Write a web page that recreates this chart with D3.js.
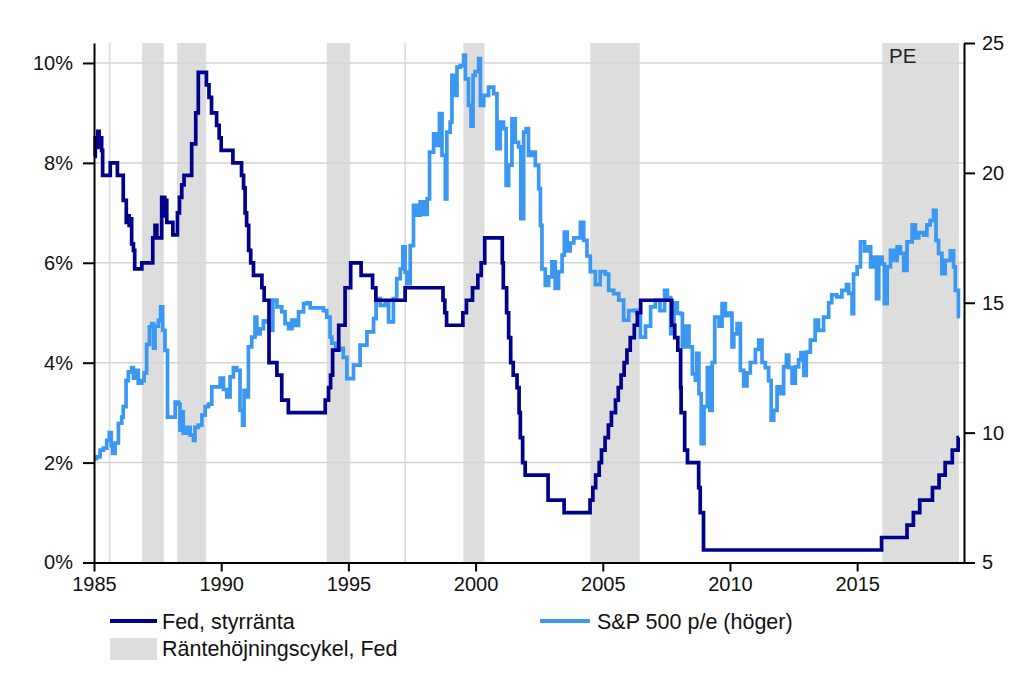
<!DOCTYPE html>
<html><head><meta charset="utf-8">
<script src="https://cdn.jsdelivr.net/npm/d3@7"></script>
<style>body{margin:0;background:#fff;} svg{display:block;}</style>
</head><body><svg id="c" width="1024" height="683"></svg>
<script>
// ---- data ----
const xTicks = [1985, 1990, 1995, 2000, 2005, 2010, 2015];
const leftTicks = [0, 2, 4, 6, 8, 10];
const rightTicks = [5, 10, 15, 20, 25];
// Fed rate hike cycles [start, end] (decimal years)
const hikeCycles = [[1985.58,1985.65],[1986.89,1987.74],[1988.27,1989.41],[1994.15,1995.07],[1997.2,1997.27],[1999.52,2000.35],[2004.51,2006.45],[2015.99,2019.0]];
// Fed policy rate, step-after [year, %]
const fedRate = [
[1985.00,8.13],[1985.05,8.5],[1985.10,8.31],[1985.15,8.63],[1985.20,8.38],[1985.25,8.5],[1985.30,8.25],[1985.34,7.75],[1985.64,8.0],[1985.92,7.75],
[1986.15,7.25],[1986.27,6.81],[1986.33,6.94],[1986.38,6.75],[1986.43,6.88],[1986.48,6.38],[1986.55,6.25],[1986.60,5.88],[1986.88,6.0],
[1987.31,6.5],[1987.40,6.75],[1987.47,6.5],[1987.66,7.31],[1987.70,6.94],[1987.74,7.31],[1987.78,6.94],[1987.82,7.25],[1987.86,6.81],
[1988.10,6.56],[1988.28,7.0],[1988.36,7.31],[1988.45,7.56],[1988.54,7.75],[1988.84,8.38],[1989.00,9.0],[1989.10,9.81],
[1989.42,9.56],[1989.52,9.31],[1989.62,9.0],[1989.82,8.75],[1989.92,8.5],[1990.00,8.25],[1990.46,8.0],[1990.80,7.75],[1990.88,7.5],
[1990.94,7.0],[1991.00,6.75],[1991.08,6.25],[1991.16,6.0],[1991.27,5.75],[1991.60,5.5],[1991.69,5.25],[1991.88,4.0],[1992.19,3.75],
[1992.38,3.25],[1992.64,3.0],[1994.09,3.25],[1994.22,3.5],[1994.30,3.75],[1994.38,4.25],[1994.62,4.75],[1994.87,5.5],[1995.09,6.0],
[1995.50,5.75],[1995.95,5.5],[1996.08,5.25],[1997.23,5.5],[1998.72,5.25],[1998.79,5.0],[1998.86,4.75],[1999.50,5.0],[1999.64,5.25],
[1999.88,5.5],[2000.09,5.75],[2000.22,6.0],[2000.36,6.5],[2001.05,6.0],[2001.09,5.5],[2001.22,5.0],[2001.30,4.5],[2001.38,4.0],
[2001.48,3.75],[2001.63,3.5],[2001.71,3.0],[2001.76,2.5],[2001.85,2.0],[2001.95,1.75],[2002.85,1.25],[2003.48,1.0],[2004.50,1.25],
[2004.61,1.5],[2004.72,1.75],[2004.86,2.0],[2004.95,2.25],[2005.09,2.5],[2005.22,2.75],[2005.34,3.0],[2005.50,3.25],[2005.61,3.5],
[2005.72,3.75],[2005.84,4.0],[2005.95,4.25],[2006.08,4.5],[2006.24,4.75],[2006.36,5.0],[2006.49,5.25],[2007.71,4.75],[2007.83,4.5],
[2007.95,4.25],[2008.06,3.5],[2008.08,3.0],[2008.22,2.25],[2008.33,2.0],[2008.77,1.5],[2008.83,1.0],[2008.96,0.25],[2015.96,0.5],
[2016.96,0.75],[2017.21,1.0],[2017.46,1.25],[2017.96,1.5],[2018.22,1.75],[2018.46,2.0],[2018.74,2.25],[2018.97,2.5],[2019.0,2.5]];
// S&P 500 p/e, right axis [year, p/e]
const spPE = [
[1985.00,9.0],[1985.10,9.07],[1985.24,9.33],[1985.37,9.4],[1985.50,9.7],[1985.60,10.0],[1985.68,9.5],[1985.73,9.2],[1985.83,9.6],[1985.96,10.36],
[1986.09,10.6],[1986.15,11.0],[1986.26,12.0],[1986.35,12.34],[1986.48,12.5],[1986.55,12.1],[1986.61,12.4],[1986.74,11.9],[1986.88,12.0],[1986.97,12.3],
[1987.07,13.4],[1987.18,14.07],[1987.27,14.2],[1987.34,13.25],[1987.40,14.1],[1987.53,14.33],[1987.62,14.84],[1987.70,13.94],[1987.79,13.17],[1987.89,10.6],
[1988.12,10.6],[1988.19,11.18],[1988.32,11.1],[1988.38,10.1],[1988.45,10.8],[1988.51,9.98],[1988.65,10.2],[1988.78,9.9],[1988.91,9.7],[1988.97,10.2],
[1989.10,10.29],[1989.24,10.67],[1989.37,11.0],[1989.50,11.1],[1989.63,11.76],[1989.83,11.76],[1989.96,12.1],[1990.09,11.66],[1990.22,11.38],[1990.35,12.15],
[1990.48,12.5],[1990.61,12.4],[1990.74,10.86],[1990.84,10.29],[1990.90,11.63],[1991.00,11.38],[1991.07,13.3],[1991.20,13.68],[1991.33,14.45],[1991.40,13.8],
[1991.53,14.0],[1991.66,14.3],[1991.79,14.26],[1991.92,13.94],[1992.03,15.1],[1992.19,14.84],[1992.38,14.65],[1992.51,14.2],[1992.65,14.0],[1992.78,14.33],
[1992.90,14.13],[1993.04,14.65],[1993.24,14.97],[1993.37,15.0],[1993.50,14.8],[1993.76,14.8],[1994.02,14.7],[1994.15,14.45],[1994.28,13.68],[1994.35,13.44],
[1994.50,13.2],[1994.68,13.24],[1994.80,12.9],[1994.94,12.08],[1995.20,12.6],[1995.46,13.37],[1995.73,13.88],[1995.99,14.39],[1996.09,15.16],[1996.25,14.9],
[1996.45,15.0],[1996.58,14.26],[1996.77,15.16],[1996.90,15.93],[1997.04,16.3],[1997.14,17.15],[1997.23,16.18],[1997.30,15.74],[1997.43,17.2],[1997.56,18.75],
[1997.70,18.37],[1997.82,18.88],[1997.96,18.4],[1998.10,19.0],[1998.19,20.8],[1998.35,21.5],[1998.48,21.06],[1998.58,22.28],[1998.68,20.67],[1998.81,19.0],
[1998.87,21.57],[1999.00,21.95],[1999.07,23.75],[1999.20,22.98],[1999.27,24.07],[1999.40,24.13],[1999.53,24.52],[1999.60,23.62],[1999.72,22.6],[1999.82,21.8],
[1999.90,23.75],[1999.98,23.9],[2000.12,24.4],[2000.19,22.6],[2000.32,22.98],[2000.51,23.3],[2000.71,23.05],[2000.84,20.93],[2000.97,21.95],[2001.10,21.7],
[2001.20,19.52],[2001.30,20.3],[2001.43,22.08],[2001.56,21.18],[2001.69,21.0],[2001.78,18.24],[2001.89,21.57],[2001.99,21.7],[2002.08,20.67],[2002.21,20.8],
[2002.35,20.29],[2002.48,19.39],[2002.55,17.98],[2002.61,16.3],[2002.74,15.67],[2002.87,16.0],[2003.00,16.57],[2003.13,15.55],[2003.26,16.2],[2003.40,16.83],
[2003.49,17.72],[2003.60,17.0],[2003.72,17.3],[2003.86,17.5],[2004.12,18.1],[2004.25,17.4],[2004.38,16.8],[2004.51,16.2],[2004.71,15.7],[2004.90,16.2],
[2005.10,16.1],[2005.23,15.48],[2005.43,15.35],[2005.63,15.1],[2005.82,14.33],[2006.02,14.7],[2006.22,14.71],[2006.35,14.6],[2006.48,13.68],[2006.68,14.1],
[2006.88,14.84],[2007.07,15.1],[2007.25,14.7],[2007.43,15.48],[2007.54,15.2],[2007.67,13.81],[2007.80,15.0],[2007.93,14.6],[2008.05,14.58],[2008.13,13.3],
[2008.26,14.1],[2008.39,13.3],[2008.52,12.26],[2008.64,12.02],[2008.69,13.05],[2008.78,11.5],[2008.87,9.58],[2008.98,11.0],[2009.11,12.5],[2009.21,10.86],
[2009.30,12.7],[2009.40,14.45],[2009.57,14.1],[2009.69,14.97],[2009.82,14.5],[2009.95,14.6],[2010.08,13.3],[2010.15,13.8],[2010.28,14.2],[2010.41,12.4],
[2010.54,11.8],[2010.67,12.3],[2010.80,12.7],[2011.00,13.2],[2011.13,13.56],[2011.26,12.7],[2011.39,12.5],[2011.52,12.0],[2011.62,10.48],[2011.72,10.86],
[2011.85,11.76],[2011.98,11.5],[2012.11,12.53],[2012.22,12.98],[2012.31,12.5],[2012.44,11.9],[2012.57,12.53],[2012.70,12.8],[2012.79,13.08],[2012.90,12.2],
[2013.00,13.1],[2013.16,13.56],[2013.35,14.33],[2013.48,13.94],[2013.68,14.45],[2013.88,15.0],[2014.00,15.3],[2014.20,15.23],[2014.40,15.48],[2014.58,15.7],
[2014.67,15.36],[2014.80,14.58],[2014.86,16.1],[2015.00,16.38],[2015.13,17.34],[2015.29,17.0],[2015.40,17.15],[2015.53,16.38],[2015.66,16.76],[2015.76,15.16],
[2015.85,16.76],[2015.98,16.5],[2016.07,14.97],[2016.18,16.38],[2016.31,17.02],[2016.44,16.63],[2016.57,17.15],[2016.70,16.9],[2016.83,16.25],[2016.96,17.34],
[2017.16,18.0],[2017.29,17.5],[2017.42,17.7],[2017.61,17.6],[2017.74,18.0],[2017.87,18.17],[2018.00,18.56],[2018.10,17.4],[2018.20,16.9],[2018.33,16.12],
[2018.46,16.63],[2018.66,17.0],[2018.79,16.38],[2018.86,15.48],[2018.98,14.4]];
const seriesNames = ["Fed, styrränta", "S&P 500 p/e (höger)", "Räntehöjningscykel, Fed"];
const panelLabel = "PE";

// ---- drawing ----
const FONT = '"Liberation Sans", Arial, sans-serif';
const svg = d3.select("#c");
const L = 94, R = 964, T = 43, B = 562.5;
const x = d3.scaleLinear().domain([1985, 2019.2]).range([L, R]);
const yL = d3.scaleLinear().domain([0, 10.4]).range([B, T]);
const yR = d3.scaleLinear().domain([5, 25]).range([B, T]);
const FED = "#00008c", PEC = "#3a98f2", SHADE = "#dddddd", GRID = "#d3d3d3";

// shading
svg.append("g").selectAll("rect").data(hikeCycles).join("rect")
  .attr("x", d => x(d[0])).attr("width", d => x(d[1]) - x(d[0]))
  .attr("y", T).attr("height", B - T).attr("fill", SHADE);

// gridlines
svg.append("g").selectAll("line").data(leftTicks.filter(d => d > 0)).join("line")
  .attr("x1", L).attr("x2", R).attr("y1", d => yL(d)).attr("y2", d => yL(d))
  .attr("stroke", GRID).attr("stroke-width", 1.5);

svg.append("text").attr("x", 889).attr("y", 62.5).attr("font-family", FONT)
  .attr("font-size", 20.5).attr("fill", "#222").text(panelLabel);

// lines
const lineL = d3.line().x(d => x(d[0])).y(d => yL(d[1])).curve(d3.curveStepAfter);
const lineR = d3.line().x(d => x(d[0])).y(d => yR(d[1])).curve(d3.curveStepAfter);
svg.append("path").datum(spPE).attr("d", lineR).attr("fill", "none")
  .attr("stroke", PEC).attr("stroke-width", 3.7).attr("stroke-linejoin", "miter");
svg.append("path").datum(fedRate).attr("d", lineL).attr("fill", "none")
  .attr("stroke", FED).attr("stroke-width", 3.7).attr("stroke-linejoin", "miter");

// axes
function styleAxis(g) {
  g.attr("font-family", FONT).attr("font-size", 20);
  g.selectAll("path,line").attr("stroke", "#000").attr("stroke-width", 2);
  g.selectAll("text").attr("fill", "#111");
}
svg.append("g").attr("transform", `translate(${L},0)`)
  .call(d3.axisLeft(yL).tickValues(leftTicks).tickFormat(d => d + "%").tickSize(11).tickSizeOuter(0).tickPadding(10))
  .call(styleAxis);
svg.append("g").attr("transform", `translate(${R},0)`)
  .call(d3.axisRight(yR).tickValues(rightTicks).tickSize(11).tickSizeOuter(0).tickPadding(7))
  .call(styleAxis);
svg.append("g").attr("transform", `translate(0,${B})`)
  .call(d3.axisBottom(x).tickValues(xTicks).tickFormat(d3.format("d")).tickSize(9).tickSizeOuter(0).tickPadding(5))
  .call(styleAxis);

// legend
const lg = svg.append("g").attr("font-family", FONT).attr("font-size", 21.5).attr("fill", "#111");
lg.append("line").attr("x1", 110).attr("x2", 157).attr("y1", 621).attr("y2", 621).attr("stroke", FED).attr("stroke-width", 4);
lg.append("text").attr("x", 162).attr("y", 628.5).text(seriesNames[0]);
lg.append("line").attr("x1", 540).attr("x2", 590).attr("y1", 621).attr("y2", 621).attr("stroke", PEC).attr("stroke-width", 4);
lg.append("text").attr("x", 597).attr("y", 628.5).text(seriesNames[1]);
lg.append("rect").attr("x", 110).attr("y", 638).attr("width", 47).attr("height", 22).attr("fill", SHADE);
lg.append("text").attr("x", 162).attr("y", 655.5).text(seriesNames[2]);
</script></body></html>
